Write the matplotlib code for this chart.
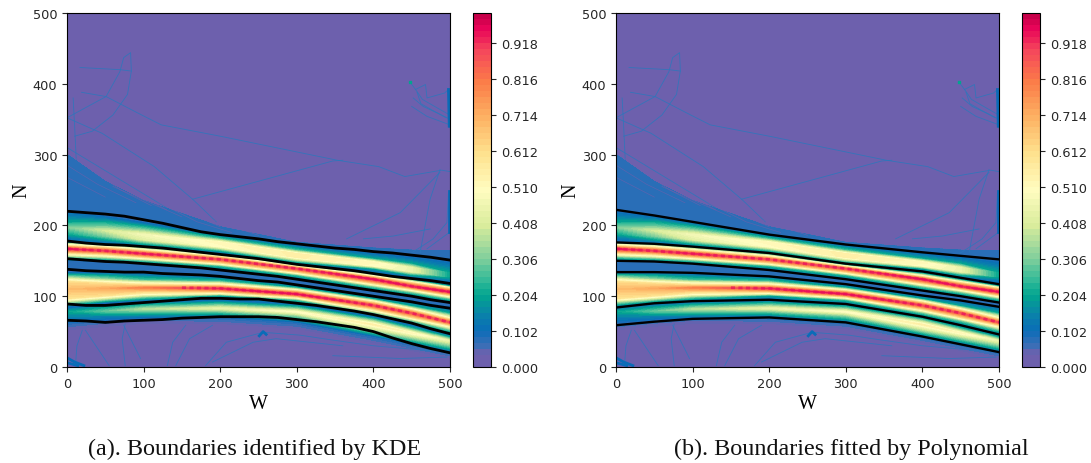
import numpy as np
import matplotlib
matplotlib.use("Agg")
import matplotlib.pyplot as plt
from matplotlib.colors import LinearSegmentedColormap

# Estaciones del eje W para la malla del mapa de calor
estaciones = [0, 50, 100, 200, 300, 400, 450, 500]

# Limites ajustados por polinomio (panel b)
b1 = [222, 214, 205, 187, 173, 162, 157, 152]
b2 = [176, 174, 170, 161, 146, 135, 126, 117]
b3 = [150, 149, 146, 137, 124, 108, 100, 91]
b4 = [134, 134, 133, 128, 117, 101, 94, 85]
b5 = [84, 90, 93, 95, 89, 71, 59, 46]
b6 = [59, 64, 68, 70, 63, 43, 32, 21]

# Limites identificados por KDE (panel a)
estaciones_kde = [0, 25, 50, 75, 100, 125, 150, 175, 200, 225, 250, 275, 300, 325, 350, 375, 400, 425, 450, 475, 500]
k1 = [220, 218, 216, 213, 208, 203, 197, 191, 187, 184, 181, 177, 174, 171, 168, 166, 163, 161, 158, 155, 151]
k2 = [178, 175, 173, 172, 170, 168, 165, 162, 159, 156, 153, 149, 145, 142, 139, 136, 132, 128, 125, 122, 118]
k3 = [153, 151, 149, 148, 146, 144, 142, 140, 137, 134, 131, 128, 124, 120, 116, 112, 108, 104, 100, 95, 91]
k4 = [138, 136, 135, 134, 134, 132, 131, 130, 128, 125, 122, 120, 116, 112, 108, 104, 100, 96, 92, 87, 83]
k5 = [89, 87, 87, 89, 91, 93, 95, 97, 97, 96, 96, 93, 90, 87, 83, 79, 74, 68, 62, 54, 47]
k6 = [66, 65, 63, 65, 66, 67, 69, 70, 71, 71, 71, 70, 67, 64, 60, 56, 50, 41, 33, 26, 20]

# Crestas rojas punteadas de los carriles centrales
cresta2_n = [167, 164, 160, 152, 139, 124, 114, 106]
cresta3_w = [150, 200, 300, 400, 450, 500]
cresta3_n = [112, 111, 103, 87, 76, 63]

filas_n = [
    [0, 0, 0, 0, 0, 0, 0, 0],
    [44, 49, 53, 55, 48, 28, 17, 6],
    b6,
    [70, 72, 75, 77, 72, 52, 42, 30],
    [78, 79, 82, 83, 78, 60, 48, 37],
    [82, 85, 88, 89, 84, 66, 54, 42],
    b5,
    [92, 96, 99, 101, 95, 77, 66, 53],
    [97, 101, 104, 105, 99, 82, 70, 58],
    [110, 111, 112, 111, 103, 87, 76, 63],
    [120, 118, 117, 116, 108, 92, 81, 69],
    [125, 124, 123, 121, 112, 96, 86, 76],
    b4,
    b3,
    [156, 154, 151, 143, 130, 114, 106, 97],
    [161, 159, 155, 147, 134, 118, 110, 101],
    cresta2_n,
    [171, 169, 165, 156, 142, 128, 119, 111],
    [174, 172, 168, 159, 144, 132, 123, 114],
    b2,
    [180, 178, 174, 165, 150, 139, 130, 122],
    [188, 185, 180, 170, 155, 143, 135, 127],
    [197, 193, 187, 176, 160, 148, 140, 133],
    [205, 200, 194, 181, 165, 153, 146, 140],
    b1,
    [300, 262, 235, 198, 176, 168, 165, 164],
    [301, 263, 236, 199, 177, 169, 166, 165],
    [500, 500, 500, 500, 500, 500, 500, 500],
]
filas_v = [
    [0, 0, 0, 0, 0, 0, 0, 0],
    [0, 0, 0, 0, 0, 0, 0, 0],
    [.06, .06, .06, .08, .08, .08, .08, .08],
    [.14, .15, .2, .25, .3, .35, .35, .3],
    [.2, .28, .36, .45, .5, .55, .52, .45],
    [.14, .18, .2, .25, .25, .3, .25, .2],
    [.06, .07, .07, .08, .08, .08, .08, .08],
    [.35, .35, .3, .2, .25, .3, .3, .3],
    [.6, .6, .55, .55, .6, .62, .6, .55],
    [.68, .72, .8, .93, .95, .9, .88, .88],
    [.62, .6, .55, .55, .55, .55, .55, .5],
    [.4, .32, .25, .25, .2, .2, .2, .2],
    [.08, .08, .08, .08, .08, .08, .08, .08],
    [.08, .08, .08, .08, .08, .08, .08, .08],
    [.3, .3, .3, .25, .25, .3, .3, .3],
    [.6, .6, .6, .6, .6, .6, .6, .6],
    [.95, .9, .93, .88, .9, .95, .93, .95],
    [.62, .58, .55, .55, .55, .55, .6, .6],
    [.38, .34, .3, .25, .2, .2, .2, .2],
    [.08, .08, .08, .08, .08, .08, .08, .08],
    [.1, .15, .2, .25, .3, .2, .2, .12],
    [.2, .3, .42, .5, .55, .5, .45, .2],
    [.3, .4, .47, .52, .55, .52, .45, .2],
    [.2, .27, .3, .25, .25, .2, .2, .15],
    [.07, .07, .07, .07, .07, .07, .07, .07],
    [.07, .07, .07, .07, .07, .07, .07, .07],
    [0, 0, 0, 0, 0, 0, 0, 0],
    [0, 0, 0, 0, 0, 0, 0, 0],
]

# Trayectorias sueltas fuera de los carriles: (W, N)
trayectorias = [
    [(0, 352), (51, 382), (69, 417), (74, 437), (83, 444), (84, 418), (79, 385), (60, 356), (33, 333), (10, 326)],
    [(17, 423), (69, 420), (84, 418)],
    [(19, 388), (51, 382), (92, 359), (123, 342), (200, 326), (353, 292), (407, 283), (441, 269), (489, 278), (500, 276)],
    [(0, 352), (46, 330), (114, 283), (164, 237), (195, 205)],
    [(164, 237), (347, 291), (360, 292)],
    [(0, 310), (84, 255), (130, 225)],
    [(8, 380), (10, 340), (12, 293)],
    [(365, 181), (435, 218), (487, 275)],
    [(461, 162), (474, 237), (487, 279)],
    [(498, 246), (496, 204), (478, 181), (444, 157)],
    [(499, 190), (470, 167)],
    [(387, 181), (426, 185), (474, 195)],
    [(448, 402), (455, 392), (464, 378), (480, 368), (498, 357)],
    [(450, 368), (470, 354), (500, 342)],
    [(455, 392), (468, 399), (470, 380), (493, 387), (498, 392), (500, 338)],
    [(452, 380), (465, 368), (485, 358), (500, 350)],
    [(457, 388), (462, 372), (478, 362), (495, 352)],
    [(11, 2), (13, 30), (20, 52)],
    [(24, 52), (55, 2)],
    [(76, 2), (72, 40), (76, 61)],
    [(74, 59), (96, 12)],
    [(131, 2), (138, 35), (155, 59)],
    [(142, 2), (160, 40), (190, 59)],
    [(181, 2), (208, 35), (256, 49), (304, 45), (347, 38), (400, 30), (496, 21)],
    [(190, 7), (243, 35), (273, 40), (360, 30)],
    [(347, 16), (435, 12), (496, 14)],
]
manchas = [
    [(251, 44), (256, 50), (260, 46)],
    [(0, 13), (10, 7), (22, 2)],
    [(0, 6), (14, 2)],
    [(498, 392), (499, 340)],
    [(499, 248), (499, 190)],
]
huecos_abanico = [
    [(0, 285), (40, 258), (90, 232)],
    [(0, 268), (50, 240)],
    [(20, 292), (90, 245), (130, 222)],
    [(60, 255), (150, 212)],
    [(10, 296), (70, 250), (110, 228)],
    [(120, 232), (170, 205), (215, 190)],
    [(150, 222), (200, 198)],
    [(190, 208), (250, 186)],
]

ticks_ejes = [0, 100, 200, 300, 400, 500]
ticks_barra = [0.000, 0.102, 0.204, 0.306, 0.408, 0.510, 0.612, 0.714, 0.816, 0.918]
niveles = list(np.arange(0, 0.99, 0.017)) + [1.0]

colores = LinearSegmentedColormap.from_list("densidad", [
    (0.00, "#6d60ad"), (0.035, "#6d60ad"), (0.06, "#3a6fb6"), (0.10, "#0a6cb8"),
    (0.15, "#0a84a8"), (0.20, "#02a490"), (0.24, "#2cb898"), (0.31, "#84d09c"),
    (0.40, "#d9ec9c"), (0.50, "#fffcc0"), (0.61, "#fee08c"), (0.71, "#fdb062"),
    (0.81, "#fb7c48"), (0.90, "#f5455c"), (0.96, "#e80458"), (1.00, "#c40048"),
])

W, H = 1091, 464
fig = plt.figure(figsize=(W / 100, H / 100), dpi=100)


def ejes_px(x0, y0, x1, y1):
    # Rectangulo en pixeles de la imagen, con y hacia abajo
    return fig.add_axes([x0 / W, 1 - y1 / H, (x1 - x0) / W, (y1 - y0) / H])


def dibujar_panel(x0, limites_x, limites, grosor, titulo, titulo_x):
    ax = ejes_px(x0, 14, x0 + 383, 368)
    malla_x = np.tile(estaciones, (len(filas_n), 1))
    cf = ax.contourf(malla_x, np.array(filas_n), np.array(filas_v), levels=niveles, cmap=colores)

    for t in trayectorias:
        xs, ys = zip(*t)
        ax.plot(xs, ys, color="#2a78bc", lw=0.6, alpha=0.85)
    for t in manchas:
        xs, ys = zip(*t)
        ax.plot(xs, ys, color="#0a6cb8", lw=2.0)
    for t in huecos_abanico:
        xs, ys = zip(*t)
        ax.plot(xs, ys, color="#6d60ad", lw=0.5, alpha=0.7)
    ax.plot([448], [402], marker="s", ms=1.5, color="#02a490")

    # Manchas rojas sobre las crestas
    ax.plot(estaciones, cresta2_n, color="#e8105a", lw=2.0, alpha=0.7, dashes=(1.5, 1.2))
    ax.plot(cresta3_w, cresta3_n, color="#e8105a", lw=2.0, alpha=0.7, dashes=(1.5, 1.2))

    for curva in limites:
        ax.plot(limites_x, curva, color="black", lw=grosor)

    ax.set_xlim(0, 500)
    ax.set_ylim(0, 500)
    ax.set_xticks(ticks_ejes)
    ax.set_yticks(ticks_ejes)
    ax.tick_params(labelsize=9.3, colors="#262626")
    ax.set_xlabel("W", family="Liberation Serif", fontsize=14.5, labelpad=3)
    ax.set_ylabel("N", family="Liberation Serif", fontsize=14.5, labelpad=1)

    cax = ejes_px(x0 + 406, 14, x0 + 424, 368)
    barra = fig.colorbar(cf, cax=cax, ticks=ticks_barra)
    barra.ax.set_yticklabels([f"{t:.3f}" for t in ticks_barra])
    barra.ax.tick_params(labelsize=9.3, colors="#262626")

    fig.text(titulo_x / W, 1 - 449 / H, titulo, family="Liberation Serif", fontsize=17.4,
             ha="center", va="center", color="#111111")


dibujar_panel(67, estaciones_kde, [k1, k2, k3, k4, k5, k6], 2.0,
              "(a). Boundaries identified by KDE", 255)
dibujar_panel(616, estaciones, [b1, b2, b3, b4, b5, b6], 1.7,
              "(b). Boundaries fitted by Polynomial", 851)

fig.savefig("out.png", dpi=100)
